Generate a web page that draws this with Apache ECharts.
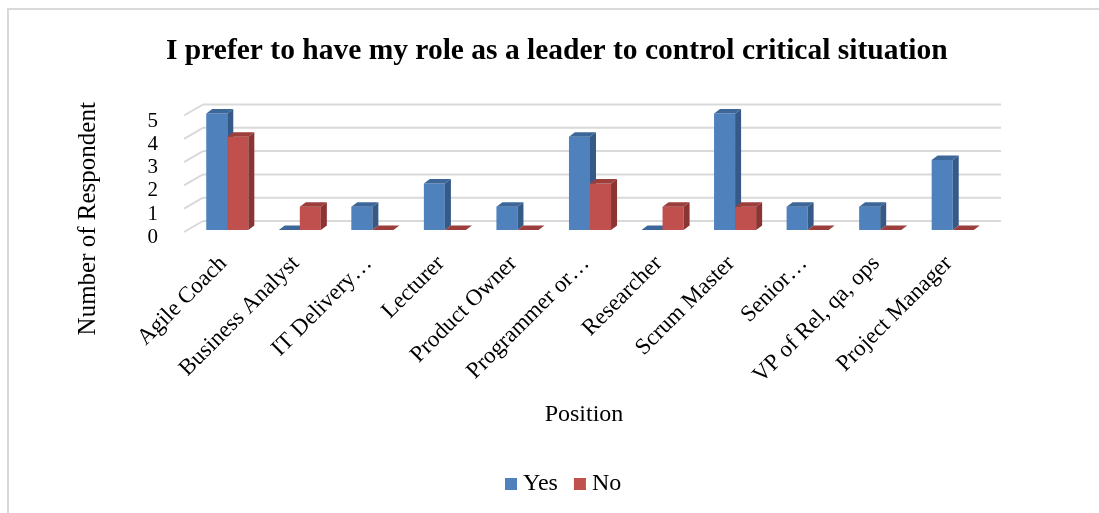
<!DOCTYPE html>
<html>
<head>
<meta charset="utf-8">
<script src="https://cdn.jsdelivr.net/npm/echarts@6/dist/echarts.min.js"></script>
<style>
  html, body { margin: 0; padding: 0; background: #fff; }
  #chart { width: 1099px; height: 513px; }
</style>
</head>
<body>
<div id="chart"></div>
<script>
// Survey answers per position
const categories = ['Agile Coach', 'Business Analyst', 'IT Delivery\u2026', 'Lecturer', 'Product Owner',
  'Programmer or\u2026', 'Researcher', 'Scrum Master', 'Senior\u2026', 'VP of Rel, qa, ops', 'Project Manager'];
const yesValues = [5, 0, 1, 2, 1, 4, 0, 5, 1, 1, 3];
const noValues = [4, 1, 0, 0, 0, 2, 1, 1, 0, 0, 0];
const yTicks = [0, 1, 2, 3, 4, 5];

const FONT = '"Liberation Serif", "Times New Roman", serif';

// pseudo-3D geometry (pixel offsets of planes relative to the grid)
const BACK_DX = 16, BACK_DY = -11;   // back wall
const FRONT_DX = -3;                 // front edge of the floor
const BAR_DX = 4, BAR_DY = -2;       // bar front faces sit slightly behind the floor edge
const DEPTH_DX = 6, DEPTH_DY = -4.5; // bar depth

const palette = {
  Yes: { front: '#4f81bd', side: '#355a88', top: '#3d6799' },
  No: { front: '#c0504d', side: '#8a3533', top: '#9c3e3b' }
};

function wallItem(params, api) {
  const p = api.coord([0, api.value(1)]);
  const bw = api.size([1, 0])[0];
  const xs = p[0] - bw / 2;
  const xe = xs + bw * categories.length;
  const style = { stroke: '#d9d9d9', lineWidth: 2 };
  return {
    type: 'group',
    children: [
      { type: 'line', shape: { x1: xs + BACK_DX, y1: p[1] + BACK_DY, x2: xe + BACK_DX, y2: p[1] + BACK_DY }, style },
      { type: 'line', shape: { x1: xs + FRONT_DX, y1: p[1], x2: xs + BACK_DX, y2: p[1] + BACK_DY }, style }
    ]
  };
}

function barItem(name, left) {
  const c = palette[name];
  return function (params, api) {
    const i = api.value(0), v = api.value(1);
    const base = api.coord([i, 0]);
    const top = api.coord([i, v]);
    const bw = api.size([1, 0])[0];
    const w = bw * 0.29;
    const x0 = (left ? base[0] - w : base[0]) + BAR_DX;
    const x1 = x0 + w;
    const y0 = base[1] + BAR_DY;
    const y1 = top[1] + BAR_DY;
    const children = [];
    if (v > 0) {
      children.push({ type: 'rect', shape: { x: x0, y: y1, width: w, height: y0 - y1 },
        style: { fill: c.front } });
      children.push({ type: 'polygon', shape: { points: [[x1, y1], [x1 + DEPTH_DX, y1 + DEPTH_DY], [x1 + DEPTH_DX, y0 + DEPTH_DY], [x1, y0]] },
        style: { fill: c.side } });
    }
    children.push({ type: 'polygon', shape: { points: [[x0, y1], [x0 + DEPTH_DX, y1 + DEPTH_DY], [x1 + DEPTH_DX, y1 + DEPTH_DY], [x1, y1]] },
      style: { fill: c.top } });
    return { type: 'group', children };
  };
}

const chart = echarts.init(document.getElementById('chart'), null, { renderer: 'canvas' });
chart.setOption({
  animation: false,
  color: [palette.Yes.front, palette.No.front],
  graphic: [{
    type: 'rect', silent: true, z: -10,
    shape: { x: 8, y: 9, width: 1200, height: 600 },
    style: { fill: 'none', stroke: '#d9d9d9', lineWidth: 2 }
  }],
  title: {
    text: 'I prefer to have my role as a leader to control critical situation',
    left: 161, top: 31,
    textStyle: { fontFamily: FONT, fontWeight: 'bold', fontSize: 29.5, color: '#000' }
  },
  legend: {
    data: ['Yes', 'No'],
    bottom: 12, left: 500,
    icon: 'rect', itemWidth: 12, itemHeight: 12, itemGap: 16,
    textStyle: { fontFamily: FONT, fontSize: 24, color: '#000', padding: [0, 0, 0, 1] }
  },
  grid: { left: 187, right: 114, top: 115.5, bottom: 281 },
  xAxis: {
    type: 'category', data: categories,
    name: 'Position', nameLocation: 'middle', nameGap: 171,
    nameTextStyle: { fontFamily: FONT, fontSize: 24, color: '#000', padding: [0, 4, 0, 0] },
    axisLine: { show: false }, axisTick: { show: false },
    axisLabel: { rotate: 45, interval: 0, margin: 28, fontFamily: FONT, fontSize: 23, color: '#000' }
  },
  yAxis: {
    type: 'value', min: 0, max: 5, interval: 1,
    name: 'Number of Respondent', nameLocation: 'middle', nameRotate: 90, nameGap: 86,
    nameTextStyle: { fontFamily: FONT, fontSize: 25, color: '#000', padding: [0, 90, 0, 0] },
    axisLine: { show: false }, axisTick: { show: false }, splitLine: { show: false },
    axisLabel: { margin: 29, fontFamily: FONT, fontSize: 21, color: '#000', verticalAlign: 'top', lineHeight: 11 }
  },
  series: [
    { type: 'custom', name: 'walls', silent: true, z: 1, renderItem: wallItem,
      data: yTicks.map(t => [0, t]) },
    { type: 'custom', name: 'Yes', z: 2, renderItem: barItem('Yes', true),
      itemStyle: { color: palette.Yes.front },
      data: yesValues.map((v, i) => [i, v]) },
    { type: 'custom', name: 'No', z: 3, renderItem: barItem('No', false),
      itemStyle: { color: palette.No.front },
      data: noValues.map((v, i) => [i, v]) }
  ]
});
</script>
</body>
</html>
